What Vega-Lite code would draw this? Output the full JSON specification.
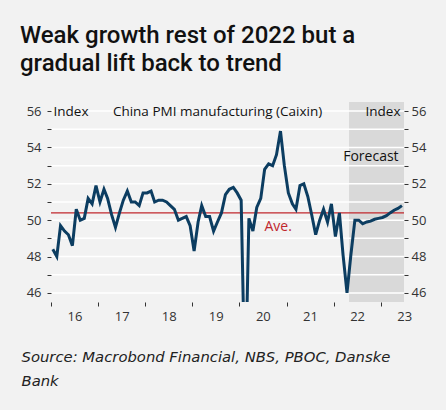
{
  "$schema": "https://vega.github.io/schema/vega-lite/v6.json",
  "width": 353,
  "height": 200,
  "autosize": {"type": "none"},
  "padding": {"left": 51, "top": 102, "right": 42, "bottom": 108},
  "background": "#f2f2f2",
  "title": {
    "text": ["Weak growth rest of 2022 but a", "gradual lift  back to trend"],
    "anchor": "start",
    "frame": "group",
    "orient": "top",
    "font": "Roboto",
    "fontSize": 24,
    "fontWeight": 500,
    "color": "#111111",
    "lineHeight": 28.3,
    "dx": -31,
    "offset": 26
  },
  "datasets": {
    "pmi": [
      {"date": "2016-01-15", "pmi": 48.4}, {"date": "2016-02-15", "pmi": 48.0}, {"date": "2016-03-15", "pmi": 49.7}, {"date": "2016-04-15", "pmi": 49.4},
      {"date": "2016-05-15", "pmi": 49.2}, {"date": "2016-06-15", "pmi": 48.6}, {"date": "2016-07-15", "pmi": 50.6}, {"date": "2016-08-15", "pmi": 50.0},
      {"date": "2016-09-15", "pmi": 50.1}, {"date": "2016-10-15", "pmi": 51.2}, {"date": "2016-11-15", "pmi": 50.9}, {"date": "2016-12-15", "pmi": 51.9},
      {"date": "2017-01-15", "pmi": 51.0}, {"date": "2017-02-15", "pmi": 51.7}, {"date": "2017-03-15", "pmi": 51.2}, {"date": "2017-04-15", "pmi": 50.3},
      {"date": "2017-05-15", "pmi": 49.6}, {"date": "2017-06-15", "pmi": 50.4}, {"date": "2017-07-15", "pmi": 51.1}, {"date": "2017-08-15", "pmi": 51.6},
      {"date": "2017-09-15", "pmi": 51.0}, {"date": "2017-10-15", "pmi": 51.0}, {"date": "2017-11-15", "pmi": 50.8}, {"date": "2017-12-15", "pmi": 51.5},
      {"date": "2018-01-15", "pmi": 51.5}, {"date": "2018-02-15", "pmi": 51.6}, {"date": "2018-03-15", "pmi": 51.0}, {"date": "2018-04-15", "pmi": 51.1},
      {"date": "2018-05-15", "pmi": 51.1}, {"date": "2018-06-15", "pmi": 51.0}, {"date": "2018-07-15", "pmi": 50.8}, {"date": "2018-08-15", "pmi": 50.6},
      {"date": "2018-09-15", "pmi": 50.0}, {"date": "2018-10-15", "pmi": 50.1}, {"date": "2018-11-15", "pmi": 50.2}, {"date": "2018-12-15", "pmi": 49.7},
      {"date": "2019-01-15", "pmi": 48.3}, {"date": "2019-02-15", "pmi": 49.9}, {"date": "2019-03-15", "pmi": 50.8}, {"date": "2019-04-15", "pmi": 50.2},
      {"date": "2019-05-15", "pmi": 50.2}, {"date": "2019-06-15", "pmi": 49.4}, {"date": "2019-07-15", "pmi": 49.9}, {"date": "2019-08-15", "pmi": 50.4},
      {"date": "2019-09-15", "pmi": 51.4}, {"date": "2019-10-15", "pmi": 51.7}, {"date": "2019-11-15", "pmi": 51.8}, {"date": "2019-12-15", "pmi": 51.5},
      {"date": "2020-01-15", "pmi": 51.1}, {"date": "2020-02-15", "pmi": 40.3}, {"date": "2020-03-15", "pmi": 50.1}, {"date": "2020-04-15", "pmi": 49.4},
      {"date": "2020-05-15", "pmi": 50.7}, {"date": "2020-06-15", "pmi": 51.2}, {"date": "2020-07-15", "pmi": 52.8}, {"date": "2020-08-15", "pmi": 53.1},
      {"date": "2020-09-15", "pmi": 53.0}, {"date": "2020-10-15", "pmi": 53.6}, {"date": "2020-11-15", "pmi": 54.9}, {"date": "2020-12-15", "pmi": 53.0},
      {"date": "2021-01-15", "pmi": 51.5}, {"date": "2021-02-15", "pmi": 50.9}, {"date": "2021-03-15", "pmi": 50.6}, {"date": "2021-04-15", "pmi": 51.9},
      {"date": "2021-05-15", "pmi": 52.0}, {"date": "2021-06-15", "pmi": 51.3}, {"date": "2021-07-15", "pmi": 50.3}, {"date": "2021-08-15", "pmi": 49.2},
      {"date": "2021-09-15", "pmi": 50.0}, {"date": "2021-10-15", "pmi": 50.6}, {"date": "2021-11-15", "pmi": 49.9}, {"date": "2021-12-15", "pmi": 50.9},
      {"date": "2022-01-15", "pmi": 49.1}, {"date": "2022-02-15", "pmi": 50.4}, {"date": "2022-03-15", "pmi": 48.1}, {"date": "2022-04-15", "pmi": 46.0},
      {"date": "2022-05-15", "pmi": 48.1}, {"date": "2022-06-15", "pmi": 50.0}, {"date": "2022-07-15", "pmi": 50.0}, {"date": "2022-08-15", "pmi": 49.8},
      {"date": "2022-09-15", "pmi": 49.9}, {"date": "2022-10-15", "pmi": 49.95}, {"date": "2022-11-15", "pmi": 50.05}, {"date": "2022-12-15", "pmi": 50.1},
      {"date": "2023-01-15", "pmi": 50.15}, {"date": "2023-02-15", "pmi": 50.25}, {"date": "2023-03-15", "pmi": 50.4}, {"date": "2023-04-15", "pmi": 50.55},
      {"date": "2023-05-15", "pmi": 50.65}, {"date": "2023-06-15", "pmi": 50.8}
    ],
    "forecast": [{"start": "2022-05-01", "end": "2023-07-01"}],
    "grid": [{"v": 46}, {"v": 47}, {"v": 48}, {"v": 49}, {"v": 50}, {"v": 51}, {"v": 52}, {"v": 53}, {"v": 54}, {"v": 55}, {"v": 56}],
    "average": [{"ave": 50.4}],
    "notes": [
      {"date": "2019-07-16", "value": 55.95, "label": "China PMI manufacturing (Caixin)", "kind": "center"},
      {"date": "2023-05-20", "value": 53.5, "label": "Forecast", "kind": "right"},
      {"date": "2020-10-28", "value": 49.6, "label": "Ave.", "kind": "ave"}
    ]
  },
  "resolve": {"axis": {"y": "independent"}},
  "layer": [
    {
      "data": {"name": "forecast"},
      "mark": {"type": "rect", "color": "#d9d9d9"},
      "encoding": {
        "x": {"field": "start", "type": "temporal"},
        "x2": {"field": "end"}
      }
    },
    {
      "data": {"name": "grid"},
      "mark": {"type": "rule", "color": "#ffffff", "strokeWidth": 1.5},
      "encoding": {
        "y": {
          "field": "v", "type": "quantitative",
          "axis": {
            "orient": "right", "zindex": 1,
            "values": [46, 47, 48, 49, 50, 51, 52, 53, 54, 55, 56],
            "labelExpr": "datum.value % 2 == 0 ? datum.label : ''",
            "grid": false, "domain": false,
            "tickSize": 4, "tickColor": "#333333", "tickWidth": 1,
            "labelPadding": 3, "labelFont": "Open Sans", "labelFontSize": 13, "labelColor": "#333333",
            "title": "Index", "titleAngle": 0, "titleAlign": "right", "titleBaseline": "middle",
            "titleX": -4, "titleY": 9.5, "titleFont": "Open Sans", "titleFontSize": 13.5, "titleFontWeight": "normal", "titleColor": "#111111"
          }
        }
      }
    },
    {
      "data": {"name": "average"},
      "mark": {"type": "rule", "color": "#c0272d", "strokeWidth": 1.3},
      "encoding": {"y": {"field": "ave", "type": "quantitative", "axis": null}}
    },
    {
      "data": {"name": "pmi"},
      "mark": {"type": "line", "color": "#0c3d61", "strokeWidth": 3, "clip": true, "strokeJoin": "miter"},
      "encoding": {
        "x": {
          "field": "date", "type": "temporal",
          "scale": {"type": "utc", "domain": [{"year": 2016, "month": 1, "date": 1, "utc": true}, {"year": 2023, "month": 7, "date": 1, "utc": true}]},
          "axis": {
            "values": [
              {"year": 2016, "month": 1, "date": 1, "utc": true}, {"year": 2017, "month": 1, "date": 1, "utc": true},
              {"year": 2018, "month": 1, "date": 1, "utc": true}, {"year": 2019, "month": 1, "date": 1, "utc": true},
              {"year": 2020, "month": 1, "date": 1, "utc": true}, {"year": 2021, "month": 1, "date": 1, "utc": true},
              {"year": 2022, "month": 1, "date": 1, "utc": true}, {"year": 2023, "month": 1, "date": 1, "utc": true}
            ],
            "labelExpr": "utcFormat(datum.value, '%y')",
            "labelOffset": 23.5, "labelBound": false, "labelFlush": false, "labelOverlap": false,
            "grid": false, "domain": false, "zindex": 1,
            "tickSize": 4, "tickColor": "#333333", "tickWidth": 1,
            "labelPadding": 4, "labelFont": "Open Sans", "labelFontSize": 13, "labelColor": "#333333",
            "title": ["Source: Macrobond Financial, NBS, PBOC, Danske", "Bank"],
            "titleX": -30, "titleY": 59, "titleAlign": "left", "titleBaseline": "alphabetic", "titleAnchor": "start",
            "titleLineHeight": 24.5, "titleFont": "DejaVu Sans", "titleFontSize": 14.8, "titleFontStyle": "italic",
            "titleFontWeight": "normal", "titleColor": "#222222"
          }
        },
        "y": {
          "field": "pmi", "type": "quantitative",
          "scale": {"domain": [45.5, 56.5], "nice": false, "zero": false},
          "axis": {
            "orient": "left", "zindex": 1,
            "values": [46, 47, 48, 49, 50, 51, 52, 53, 54, 55, 56],
            "labelExpr": "datum.value % 2 == 0 ? datum.label : ''",
            "grid": false, "domain": false,
            "tickSize": 4, "tickColor": "#333333", "tickWidth": 1,
            "labelPadding": 6, "labelFont": "Open Sans", "labelFontSize": 13, "labelColor": "#333333",
            "title": "Index", "titleAngle": 0, "titleAlign": "left", "titleBaseline": "middle",
            "titleX": 2, "titleY": 9.5, "titleFont": "Open Sans", "titleFontSize": 13.5, "titleFontWeight": "normal", "titleColor": "#111111"
          }
        }
      }
    },
    {
      "data": {"name": "notes"},
      "transform": [{"filter": "datum.kind == 'center'"}],
      "mark": {"type": "text", "font": "Open Sans", "fontSize": 13.5, "color": "#111111", "align": "center", "baseline": "middle"},
      "encoding": {
        "x": {"field": "date", "type": "temporal"},
        "y": {"field": "value", "type": "quantitative", "axis": null},
        "text": {"field": "label"}
      }
    },
    {
      "data": {"name": "notes"},
      "transform": [{"filter": "datum.kind == 'right'"}],
      "mark": {"type": "text", "font": "Open Sans", "fontSize": 14, "color": "#111111", "align": "right", "baseline": "middle"},
      "encoding": {
        "x": {"field": "date", "type": "temporal"},
        "y": {"field": "value", "type": "quantitative", "axis": null},
        "text": {"field": "label"}
      }
    },
    {
      "data": {"name": "notes"},
      "transform": [{"filter": "datum.kind == 'ave'"}],
      "mark": {"type": "text", "font": "Open Sans", "fontSize": 14, "color": "#c0272d", "align": "center", "baseline": "middle"},
      "encoding": {
        "x": {"field": "date", "type": "temporal"},
        "y": {"field": "value", "type": "quantitative", "axis": null},
        "text": {"field": "label"}
      }
    }
  ],
  "config": {"view": {"stroke": null}}
}
